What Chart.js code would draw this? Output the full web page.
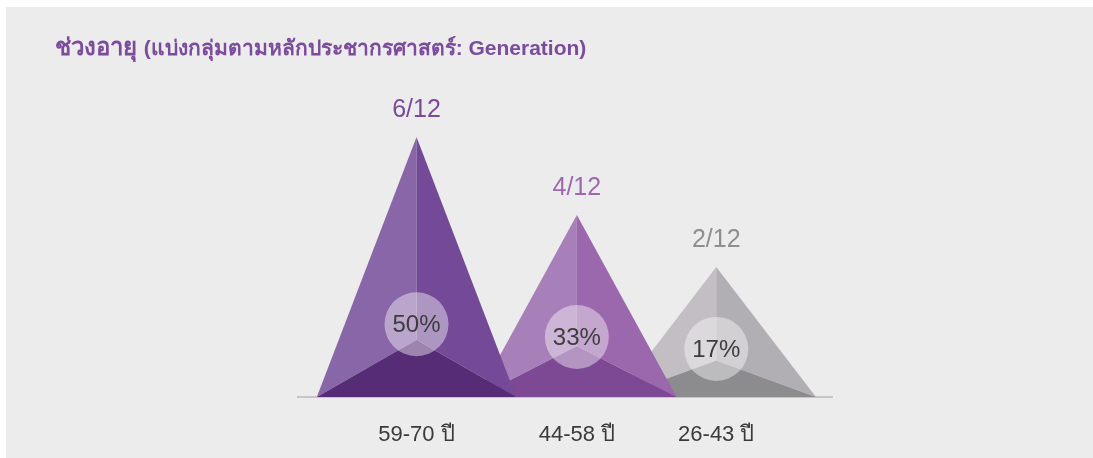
<!DOCTYPE html>
<html>
<head>
<meta charset="utf-8">
<title>ช่วงอายุ</title>
<script src="https://cdn.jsdelivr.net/npm/chart.js@4"></script>
<style>
  html, body { margin: 0; padding: 0; background: #fff; }
  #wrap { position: absolute; left: 6px; top: 7px; width: 1087px; height: 451px; background: #ececec; }
</style>
</head>
<body>
<div id="wrap"><canvas id="ageChart" width="1087" height="451"></canvas></div>
<script>
// data
const ageGroups = ['59-70 ปี', '44-58 ปี', '26-43 ปี'];
const counts = [6, 4, 2];
const totalCount = 12;
const shareLabels = ['50%', '33%', '17%'];
const peakHeight = [6, 4.2, 3.0];   // drawn height of each pyramid

// where each pyramid sits on the (hidden) x scale
const slotX = [0.85, 2, 3];

const FONT = '"Liberation Sans", Arial, "Noto Sans", sans-serif';

function poly(ctx, pts, color) {
	ctx.beginPath();
	ctx.moveTo(pts[0][0], pts[0][1]);
	for (let k = 1; k < pts.length; k++) ctx.lineTo(pts[k][0], pts[k][1]);
	ctx.closePath();
	ctx.fillStyle = color;
	ctx.fill();
}

const pyramidPlugin = {
	id: 'pyramids',
	afterDatasetsDraw(chart, args, opts) {
		const ctx = chart.ctx;
		const x = chart.scales.x, y = chart.scales.y;
		const meta = chart.getDatasetMeta(0);
		const base = y.getPixelForValue(0);
		ctx.save();
		// back to front: the left pyramid overlaps the next one
		for (let i = meta.data.length - 1; i >= 0; i--) {
			const bar = meta.data[i];
			const cx = bar.x, top = bar.y;
			const hw = x.getPixelForValue(slotX[i] + opts.halfWidth) - cx;
			const h = base - top;
			const py = base - h * opts.innerFrac[i];
			const col = opts.colors[i];
			poly(ctx, [[cx, top], [cx - hw, base], [cx, py]], col[0]);
			poly(ctx, [[cx, top], [cx + hw, base], [cx, py]], col[1]);
			poly(ctx, [[cx - hw, base], [cx + hw, base], [cx, py]], col[2]);

			const by = base - h * opts.badgeFrac[i];
			ctx.beginPath();
			ctx.arc(cx, by, opts.badgeRadius, 0, Math.PI * 2);
			ctx.fillStyle = 'rgba(255,255,255,0.42)';
			ctx.fill();

			ctx.textAlign = 'center';
			ctx.textBaseline = 'alphabetic';
			ctx.font = '24px ' + FONT;
			ctx.fillStyle = '#3d3d3d';
			ctx.fillText(shareLabels[i], cx, by + 8);

			ctx.font = '25px ' + FONT;
			ctx.fillStyle = opts.countColors[i];
			ctx.fillText(counts[i] + '/' + totalCount, cx, top - 20);
		}
		ctx.restore();
	}
};

const titlePlugin = {
	id: 'richTitle',
	afterDraw(chart) {
		const ctx = chart.ctx;
		ctx.save();
		ctx.fillStyle = '#7b4b9c';
		ctx.textBaseline = 'alphabetic';
		ctx.textAlign = 'left';
		ctx.font = 'bold 24px ' + FONT;
		const head = 'ช่วงอายุ';
		ctx.fillText(head, 49, 48);
		const w = ctx.measureText(head + ' ').width;
		ctx.font = 'bold 21px ' + FONT;
		ctx.fillText('(แบ่งกลุ่มตามหลักประชากรศาสตร์: Generation)', 49 + w, 48);
		ctx.restore();
	}
};

new Chart(document.getElementById('ageChart'), {
	type: 'bar',
	data: {
		datasets: [{
			data: peakHeight.map((v, i) => ({ x: slotX[i], y: v })),
			backgroundColor: 'transparent',
			borderWidth: 0
		}]
	},
	options: {
		responsive: false,
		animation: false,
		events: [],
		layout: { padding: { left: 292, right: 261, top: 130, bottom: 0 } },
		plugins: {
			legend: { display: false },
			tooltip: { enabled: false },
			pyramids: {
				halfWidth: 0.715,
				innerFrac: [0.22, 0.28, 0.28],
				badgeFrac: [0.28, 0.33, 0.37],
				badgeRadius: 32,
				colors: [
					['#8966a8', '#744a98', '#552c75'],
					['#a880b9', '#9b67ad', '#7e4994'],
					['#c2bec3', '#b2afb4', '#8c8b8d']
				],
				countColors: ['#7b4a9b', '#9d68b0', '#8e8e8e']
			}
		},
		scales: {
			x: {
				type: 'linear',
				min: 0,
				max: 3.83,
				offset: false,
				grid: { display: false },
				border: { display: true, color: '#c6c6c6', width: 2 },
				afterBuildTicks: (scale) => { scale.ticks = slotX.map(v => ({ value: v })); },
				afterFit: (scale) => { scale.height = 61; },
				ticks: {
					autoSkip: false,
					maxRotation: 0,
					padding: 17,
					color: '#3a3a3a',
					font: { size: 22, family: FONT },
					callback: (value, index) => ageGroups[index]
				}
			},
			y: {
				display: false,
				min: 0,
				max: 6
			}
		}
	},
	plugins: [pyramidPlugin, titlePlugin]
});
</script>
</body>
</html>
